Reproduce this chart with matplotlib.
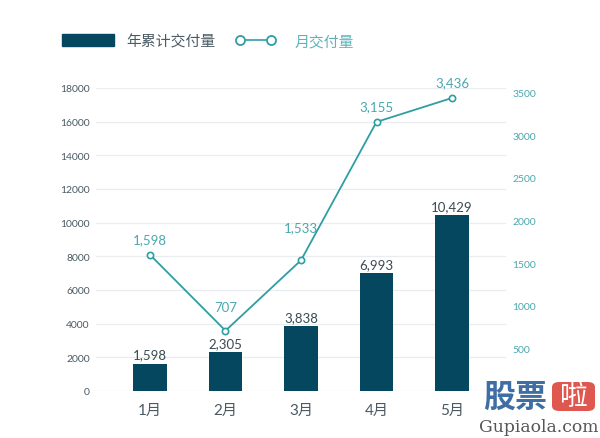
import matplotlib
matplotlib.use("Agg")
import matplotlib.pyplot as plt
from matplotlib.patches import FancyBboxPatch, Patch
from matplotlib.lines import Line2D

plt.rcParams["font.family"] = ["Lato", "Noto Sans CJK SC", "DejaVu Sans"]

months = ["1月", "2月", "3月", "4月", "5月"]
ytd_delivery = [1598, 2305, 3838, 6993, 10429]
monthly_delivery = [1598, 707, 1533, 3155, 3436]
left_ticks = list(range(0, 18001, 2000))
right_ticks = list(range(500, 3501, 500))

# label lift above each line point, in points
line_label_lift = [7, 13, 19.5, 7, 7]

DARK = "#04475f"
TEAL = "#2f9ea3"
LABEL = "#4a5a63"
W, H = 600, 439

fig = plt.figure(figsize=(6, 4.39), dpi=100)
ax = fig.add_axes([96 / W, 1 - 392 / H, (506 - 96) / W, (392 - 89) / H])
x = list(range(len(months)))

# Bars
ax.bar(x, ytd_delivery, width=0.44, color=DARK, zorder=2)
for i, v in enumerate(ytd_delivery):
    ax.annotate(f"{v:,}", (i, v), xytext=(0, 2.5), textcoords="offset points",
                ha="center", va="bottom", fontsize=9.5, color="#3a4a52", zorder=5)
ax.set_xlim(-0.715, 4.715)
ax.set_ylim(0, 18000)
ax.set_xticks(x)
ax.set_xticklabels(months, fontsize=11, color=LABEL)
ax.set_yticks(left_ticks)
ax.tick_params(axis="y", length=0, labelsize=7.5, labelcolor=LABEL, pad=4.5)
ax.tick_params(axis="x", length=0, pad=8.5)
ax.grid(True, axis="y", color="#e9edef", linewidth=0.9, zorder=0)
ax.set_axisbelow(True)
for s in ax.spines.values():
    s.set_visible(False)

# Monthly line on the right axis
ax2 = ax.twinx()
ax2.plot(x, monthly_delivery, color=TEAL, linewidth=1.3, marker="o", markersize=4.5,
         markerfacecolor="white", markeredgewidth=1.2, markeredgecolor=TEAL, zorder=4)
for i, v in enumerate(monthly_delivery):
    ax2.annotate(f"{v:,}", (i, v), xytext=(0, line_label_lift[i]), textcoords="offset points",
                 ha="center", va="bottom", fontsize=9.5, color="#4aa8ad")
ax2.set_ylim(0, 3553)
ax2.set_yticks(right_ticks)
ax2.tick_params(axis="y", length=0, labelsize=7.5, labelcolor="#4aa8ad", pad=4.5)
for s in ax2.spines.values():
    s.set_visible(False)

# Legends, two separate ones because the keys differ in width
leg1 = fig.legend(handles=[Patch(color=DARK, label="年累计交付量")],
                  loc="center left", bbox_to_anchor=(49 / W, 1 - 42 / H), frameon=False,
                  fontsize=10.7, handlelength=3.45, handleheight=0.9, handletextpad=0.85,
                  labelcolor=LABEL)
leg2 = fig.legend(handles=[Line2D([], [], color=TEAL, linewidth=1.2, marker="o", markersize=6.5,
                                  markerfacecolor="white", markeredgewidth=1.3,
                                  markeredgecolor=TEAL, label="月交付量")],
                  loc="center left", bbox_to_anchor=(222 / W, 1 - 42 / H), frameon=False,
                  fontsize=10.7, numpoints=2, handlelength=2.7, handletextpad=1.3,
                  labelcolor="#5fb3b8")

# Watermark
fig.text(515 / W, 1 - 397 / H, "股票", fontsize=23, fontweight="bold", color="#3f6ea5",
         ha="center", va="center")
badge = FancyBboxPatch((552 / W, 1 - 412 / H), 43 / W, 29 / H,
                       boxstyle="round,pad=0,rounding_size=0.012",
                       transform=fig.transFigure, facecolor="#e0574f", edgecolor="none")
fig.add_artist(badge)
fig.text(573.5 / W, 1 - 397 / H, "啦", fontsize=20, color="white", ha="center", va="center")
fig.text(539 / W, 1 - 428 / H, "Gupiaola.com", fontsize=12.3, color="#555555",
         family="DejaVu Serif", ha="center", va="center")

fig.savefig("out.png", dpi=100)
plt.close(fig)
